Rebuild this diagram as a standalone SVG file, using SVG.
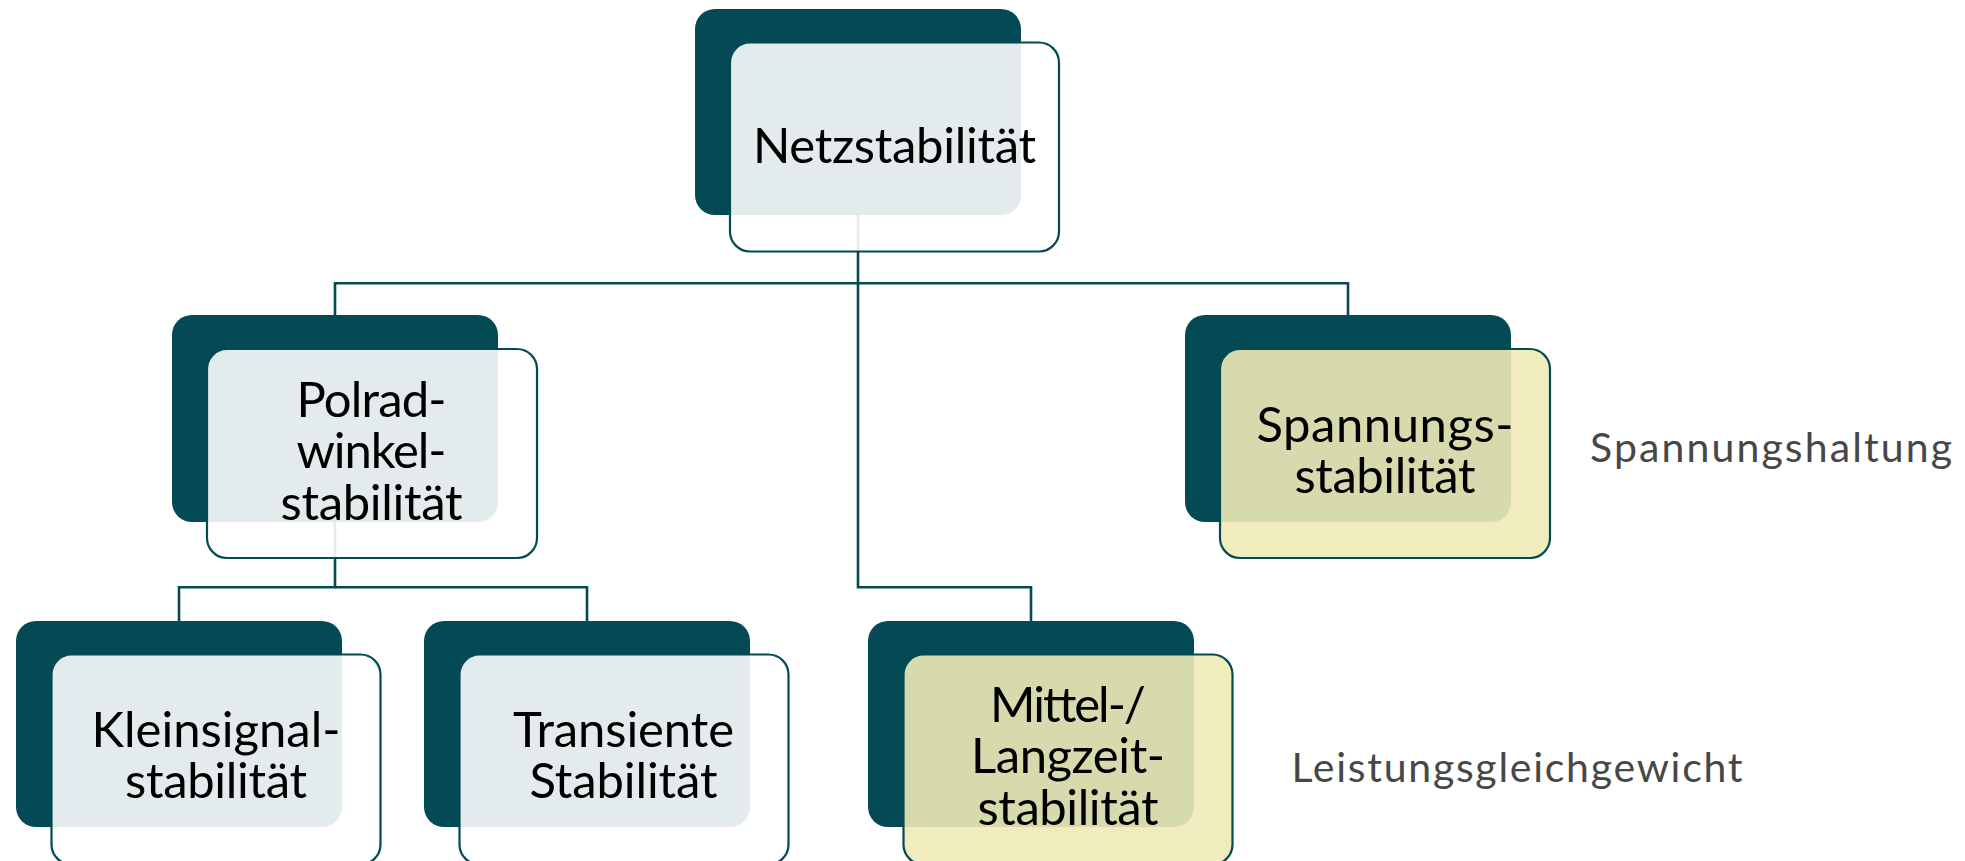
<svg xmlns="http://www.w3.org/2000/svg" width="1965" height="861" viewBox="0 0 1965 861">
<style>
.back{fill:#034a54}
.front{fill:#ffffff;fill-opacity:0.89;stroke:#034a54;stroke-width:2.2}
.frontY{fill:#eeeab6;fill-opacity:0.9;stroke:#034a54;stroke-width:2.2}
.lbl{font-family:Lato,"Liberation Sans",sans-serif;font-size:49px;fill:#000;text-anchor:middle}
.side{font-family:Lato,"Liberation Sans",sans-serif;font-size:41px;fill:#474747}
.conn{fill:none;stroke:#034a54;stroke-width:2.6}
</style>
<rect width="1965" height="861" fill="#ffffff"/>
<g id="connectors">
<path class="conn" d="M858,215 V283.3 H335 V315"/>
<path class="conn" d="M858,283.3 H1348 V315"/>
<path class="conn" d="M858,283.3 V587.3 H1031 V621"/>
<path class="conn" d="M335,522 V587.3 H179 V621"/>
<path class="conn" d="M335,587.3 H587 V621"/>
</g>
<g id="netzstabilitaet">
<rect class="back" x="695" y="9" width="326" height="206" rx="20"/>
<rect class="front" x="730" y="42.5" width="329" height="209" rx="20"/>
<text class="lbl" x="894.5" y="163.3" textLength="283">Netzstabilität</text>
</g>
<g id="polradwinkelstabilitaet">
<rect class="back" x="172" y="315" width="326" height="207" rx="20"/>
<rect class="front" x="207" y="349" width="330" height="209" rx="20"/>
<text class="lbl" x="371.5" y="416.7" textLength="150">Polrad-</text>
<text class="lbl" x="371.5" y="468.3" textLength="150">winkel-</text>
<text class="lbl" x="371.5" y="520" textLength="182">stabilität</text>
</g>
<g id="spannungsstabilitaet">
<rect class="back" x="1185" y="315" width="326" height="207" rx="20"/>
<rect class="frontY" x="1220" y="349" width="330" height="209" rx="20"/>
<text class="lbl" x="1385" y="441.5" textLength="257">Spannungs-</text>
<text class="lbl" x="1385" y="493.3" textLength="181">stabilität</text>
</g>
<g id="kleinsignalstabilitaet">
<rect class="back" x="16" y="621" width="326" height="206" rx="20"/>
<rect class="front" x="51.5" y="654.5" width="329" height="210" rx="20"/>
<text class="lbl" x="216" y="746.7" textLength="249">Kleinsignal-</text>
<text class="lbl" x="216" y="798.3" textLength="182">stabilität</text>
</g>
<g id="transiente-stabilitaet">
<rect class="back" x="424" y="621" width="326" height="206" rx="20"/>
<rect class="front" x="459.5" y="654.5" width="329" height="210" rx="20"/>
<text class="lbl" x="623.5" y="746.7" textLength="221">Transiente</text>
<text class="lbl" x="623.5" y="798.3" textLength="188">Stabilität</text>
</g>
<g id="mittel-langzeitstabilitaet">
<rect class="back" x="868" y="621" width="326" height="206" rx="20"/>
<rect class="frontY" x="903.5" y="654.5" width="329" height="210" rx="20"/>
<text class="lbl" x="1068" y="721.7" textLength="156">Mittel-/</text>
<text class="lbl" x="1068" y="773.3" textLength="194">Langzeit-</text>
<text class="lbl" x="1068" y="825" textLength="181">stabilität</text>
</g>
<g id="spannungshaltung">
<text class="side" x="1590" y="461.7" textLength="362">Spannungshaltung</text>
</g>
<g id="leistungsgleichgewicht">
<text class="side" x="1291.5" y="782.3" textLength="451">Leistungsgleichgewicht</text>
</g>
</svg>
